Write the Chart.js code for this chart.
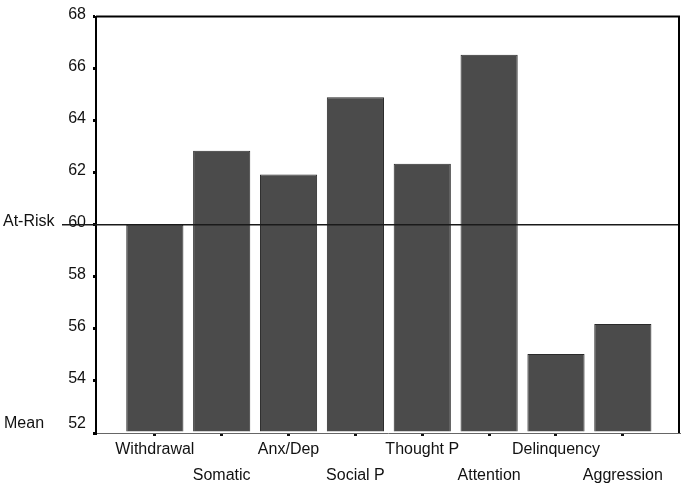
<!DOCTYPE html>
<html lang="en">
<head>
    <meta charset="UTF-8">
    <title>Scale means</title>
    <script src="https://cdn.jsdelivr.net/npm/chart.js"></script>
    <style>
        html, body { margin: 0; padding: 0; background: #fff; }
        #wrap { width: 685px; height: 484px; }
    </style>
</head>
<body>
    <div id="wrap"><canvas id="scaleChart"></canvas></div>

    <script>
        // Data
        const categories = ['Withdrawal', 'Somatic', 'Anx/Dep', 'Social P', 'Thought P', 'Attention', 'Delinquency', 'Aggression'];
        const means = [60.0, 62.85, 61.93, 64.9, 62.35, 66.53, 55.04, 56.19];
        const yTicks = [52, 54, 56, 58, 60, 62, 64, 66, 68];
        const atRisk = 60;

        const yMin = yTicks[0], yMax = yTicks[yTicks.length - 1];
        const font = { family: '"Liberation Sans", Arial, sans-serif', size: 16 };

        // extra lines: At-Risk line + labels, top/right frame
        const extras = {
            id: 'extras',
            afterDatasetsDraw(chart) {
                const { ctx, chartArea: a, scales: { y } } = chart;
                const yr = y.getPixelForValue(atRisk);
                const y0 = y.getPixelForValue(yMin);
                ctx.save();
                ctx.strokeStyle = '#1a1a1a';
                ctx.lineWidth = 1.5;
                ctx.beginPath();
                ctx.moveTo(62, yr);
                ctx.lineTo(a.right, yr);
                ctx.stroke();

                ctx.strokeStyle = '#000';
                ctx.lineWidth = 2;
                ctx.beginPath();
                ctx.moveTo(a.left, a.top);
                ctx.lineTo(a.right, a.top);
                ctx.lineTo(a.right, a.bottom);
                ctx.stroke();

                ctx.fillStyle = '#111';
                ctx.font = '16px "Liberation Sans", Arial, sans-serif';
                ctx.textBaseline = 'alphabetic';
                ctx.textAlign = 'left';
                ctx.fillText('At-Risk', 3, yr + 1);
                ctx.fillText('Mean', 4, y0 - 5);
                ctx.textAlign = 'right';
                ctx.fillText(String(yMin), 86, y0 - 5);
                ctx.restore();
            }
        };

        new Chart(document.getElementById('scaleChart'), {
            type: 'bar',
            data: {
                datasets: [{
                    data: means.map((v, i) => ({ x: i + 1, y: v })),
                    base: yMin,
                    backgroundColor: '#4b4b4b',
                    borderColor: '#2a2a2a',
                    borderWidth: 1,
                    barPercentage: 0.855,
                    categoryPercentage: 1
                }]
            },
            options: {
                responsive: true,
                maintainAspectRatio: false,
                animation: false,
                layout: { padding: { top: 10, right: 6, left: 0, bottom: 0 } },
                plugins: { legend: { display: false }, tooltip: { enabled: false } },
                scales: {
                    x: {
                        type: 'linear',
                        offset: false,
                        min: 0.12,
                        max: 8.84,
                        afterBuildTicks: s => { s.ticks = categories.map((c, i) => ({ value: i + 1 })); },
                        afterFit: s => { s.height = 51; },
                        border: { color: '#666', width: 1 },
                        grid: { offset: false, drawOnChartArea: false, drawTicks: true, tickLength: 3, lineWidth: 3, tickColor: '#111' },
                        ticks: {
                            autoSkip: false,
                            maxRotation: 0,
                            padding: 0,
                            color: '#111',
                            font: { ...font, lineHeight: 1.64 },
                            callback: (v, i) => i % 2 === 0 ? [categories[i]] : ['', categories[i]]
                        }
                    },
                    y: {
                        min: yMin,
                        max: yMax,
                        afterBuildTicks: s => { s.ticks = yTicks.map(v => ({ value: v })); },
                        afterFit: s => { s.width = 96; },
                        border: { color: '#000', width: 2 },
                        grid: { drawOnChartArea: false, drawTicks: true, tickLength: 3, lineWidth: 3, tickColor: '#000' },
                        ticks: {
                            padding: 7,
                            labelOffset: -2,
                            color: '#111',
                            font: font,
                            callback: v => v === yMin ? '' : v
                        }
                    }
                }
            },
            plugins: [extras]
        });
    </script>
</body>
</html>
